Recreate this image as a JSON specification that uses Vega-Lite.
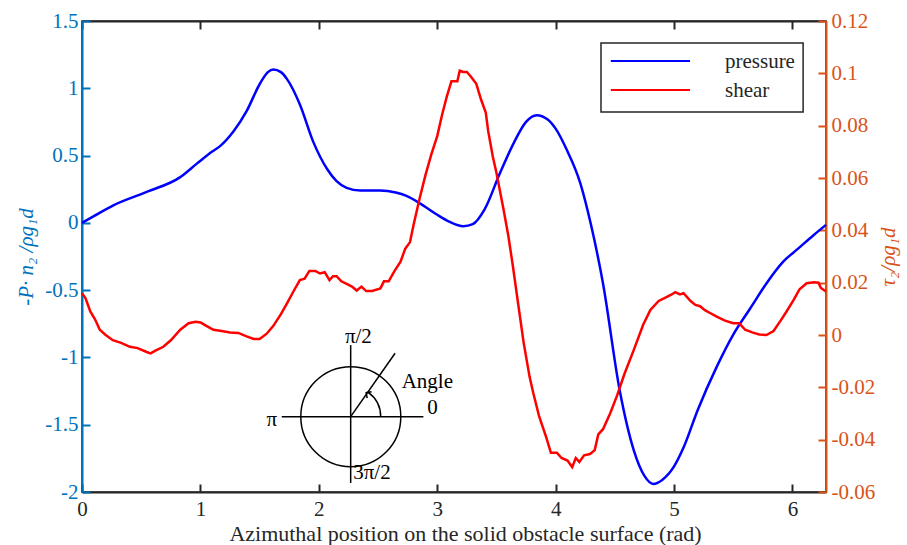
{
  "$schema": "https://vega.github.io/schema/vega-lite/v6.json",
  "width": 744,
  "height": 471,
  "autosize": "none",
  "padding": {"left": 82, "top": 21, "right": 81, "bottom": 53},
  "background": "white",
  "config": {
    "font": "Liberation Serif",
    "view": {"stroke": "#262626", "strokeWidth": 1.5},
    "axis": {"grid": false},
    "text": {"font": "Liberation Serif", "fontSize": 21}
  },
  "datasets": {
    "pressure": [
      {"x": 0, "p": 0}, {"x": 0.1, "p": 0.05}, {"x": 0.265, "p": 0.13}, {"x": 0.546, "p": 0.23},
      {"x": 0.83, "p": 0.34}, {"x": 0.97, "p": 0.44}, {"x": 1.1, "p": 0.53}, {"x": 1.166, "p": 0.57},
      {"x": 1.28, "p": 0.68}, {"x": 1.39, "p": 0.83}, {"x": 1.5, "p": 1.03}, {"x": 1.57, "p": 1.12},
      {"x": 1.616, "p": 1.14}, {"x": 1.68, "p": 1.12}, {"x": 1.73, "p": 1.07}, {"x": 1.84, "p": 0.88},
      {"x": 1.954, "p": 0.6}, {"x": 2.07, "p": 0.4}, {"x": 2.15, "p": 0.31}, {"x": 2.235, "p": 0.26},
      {"x": 2.35, "p": 0.24}, {"x": 2.517, "p": 0.24}, {"x": 2.65, "p": 0.225}, {"x": 2.74, "p": 0.2},
      {"x": 2.88, "p": 0.13}, {"x": 3.0, "p": 0.06}, {"x": 3.1, "p": 0.01}, {"x": 3.22, "p": -0.025},
      {"x": 3.3, "p": -0.01}, {"x": 3.4, "p": 0.1}, {"x": 3.53, "p": 0.37}, {"x": 3.65, "p": 0.6},
      {"x": 3.75, "p": 0.75}, {"x": 3.84, "p": 0.8}, {"x": 3.93, "p": 0.77}, {"x": 4.0, "p": 0.7},
      {"x": 4.09, "p": 0.55}, {"x": 4.21, "p": 0.29}, {"x": 4.3, "p": -0.02}, {"x": 4.4, "p": -0.45},
      {"x": 4.54, "p": -1.24}, {"x": 4.66, "p": -1.69}, {"x": 4.75, "p": -1.88}, {"x": 4.825, "p": -1.94},
      {"x": 4.9, "p": -1.91}, {"x": 5.0, "p": -1.81}, {"x": 5.08, "p": -1.67}, {"x": 5.2, "p": -1.39},
      {"x": 5.36, "p": -1.07}, {"x": 5.5, "p": -0.83}, {"x": 5.64, "p": -0.64}, {"x": 5.78, "p": -0.45},
      {"x": 5.92, "p": -0.29}, {"x": 6.05, "p": -0.19}, {"x": 6.18, "p": -0.09}, {"x": 6.2832, "p": -0.015}
    ],
    "shear": [
      {"x": 0, "s": 0.016}, {"x": 0.03, "s": 0.014}, {"x": 0.07, "s": 0.009}, {"x": 0.11, "s": 0.006},
      {"x": 0.15, "s": 0.002}, {"x": 0.2, "s": 0.0}, {"x": 0.26, "s": -0.002}, {"x": 0.33, "s": -0.003},
      {"x": 0.405, "s": -0.0045}, {"x": 0.47, "s": -0.005}, {"x": 0.546, "s": -0.0065}, {"x": 0.58, "s": -0.007},
      {"x": 0.62, "s": -0.006}, {"x": 0.687, "s": -0.0045}, {"x": 0.75, "s": -0.002}, {"x": 0.83, "s": 0.002},
      {"x": 0.9, "s": 0.0045}, {"x": 0.96, "s": 0.0051}, {"x": 1.0, "s": 0.0048}, {"x": 1.05, "s": 0.0035},
      {"x": 1.11, "s": 0.002}, {"x": 1.18, "s": 0.0015}, {"x": 1.25, "s": 0.001}, {"x": 1.32, "s": 0.0008},
      {"x": 1.39, "s": -0.0005}, {"x": 1.45, "s": -0.0015}, {"x": 1.5, "s": -0.0015}, {"x": 1.56, "s": 0.0005},
      {"x": 1.616, "s": 0.0035}, {"x": 1.68, "s": 0.008}, {"x": 1.73, "s": 0.012}, {"x": 1.79, "s": 0.017},
      {"x": 1.84, "s": 0.021}, {"x": 1.88, "s": 0.0215}, {"x": 1.92, "s": 0.0245}, {"x": 1.97, "s": 0.0245},
      {"x": 2.01, "s": 0.0235}, {"x": 2.05, "s": 0.024}, {"x": 2.09, "s": 0.021}, {"x": 2.12, "s": 0.0225},
      {"x": 2.15, "s": 0.0225}, {"x": 2.19, "s": 0.0205}, {"x": 2.235, "s": 0.0195}, {"x": 2.28, "s": 0.0185},
      {"x": 2.32, "s": 0.017}, {"x": 2.36, "s": 0.0185}, {"x": 2.4, "s": 0.0168}, {"x": 2.45, "s": 0.0168},
      {"x": 2.52, "s": 0.0178}, {"x": 2.55, "s": 0.0205}, {"x": 2.59, "s": 0.0205}, {"x": 2.64, "s": 0.0245},
      {"x": 2.69, "s": 0.028}, {"x": 2.73, "s": 0.033}, {"x": 2.77, "s": 0.0355}, {"x": 2.8, "s": 0.042},
      {"x": 2.85, "s": 0.052}, {"x": 2.9, "s": 0.061}, {"x": 2.95, "s": 0.069}, {"x": 3.0, "s": 0.076},
      {"x": 3.04, "s": 0.084}, {"x": 3.08, "s": 0.091}, {"x": 3.12, "s": 0.097}, {"x": 3.17, "s": 0.097},
      {"x": 3.19, "s": 0.101}, {"x": 3.22, "s": 0.1005}, {"x": 3.25, "s": 0.1005}, {"x": 3.28, "s": 0.099},
      {"x": 3.33, "s": 0.096}, {"x": 3.37, "s": 0.09}, {"x": 3.41, "s": 0.085}, {"x": 3.43, "s": 0.078},
      {"x": 3.47, "s": 0.068}, {"x": 3.5, "s": 0.062}, {"x": 3.56, "s": 0.048}, {"x": 3.6, "s": 0.038},
      {"x": 3.64, "s": 0.026}, {"x": 3.68, "s": 0.013}, {"x": 3.73, "s": -0.003}, {"x": 3.78, "s": -0.016},
      {"x": 3.81, "s": -0.022}, {"x": 3.86, "s": -0.031}, {"x": 3.92, "s": -0.039}, {"x": 3.96, "s": -0.045},
      {"x": 4.01, "s": -0.045}, {"x": 4.05, "s": -0.047}, {"x": 4.1, "s": -0.048}, {"x": 4.14, "s": -0.0505},
      {"x": 4.17, "s": -0.047}, {"x": 4.2, "s": -0.0485}, {"x": 4.24, "s": -0.046}, {"x": 4.29, "s": -0.0455},
      {"x": 4.33, "s": -0.044}, {"x": 4.36, "s": -0.038}, {"x": 4.4, "s": -0.036}, {"x": 4.46, "s": -0.03},
      {"x": 4.52, "s": -0.023}, {"x": 4.58, "s": -0.015}, {"x": 4.66, "s": -0.0057}, {"x": 4.74, "s": 0.004},
      {"x": 4.8, "s": 0.0096}, {"x": 4.87, "s": 0.013}, {"x": 4.94, "s": 0.0146}, {"x": 4.98, "s": 0.0155},
      {"x": 5.01, "s": 0.0164}, {"x": 5.05, "s": 0.0155}, {"x": 5.08, "s": 0.016}, {"x": 5.14, "s": 0.013},
      {"x": 5.18, "s": 0.0115}, {"x": 5.22, "s": 0.011}, {"x": 5.26, "s": 0.0095}, {"x": 5.3, "s": 0.0085},
      {"x": 5.36, "s": 0.007}, {"x": 5.43, "s": 0.0055}, {"x": 5.5, "s": 0.0045}, {"x": 5.55, "s": 0.0045},
      {"x": 5.6, "s": 0.002}, {"x": 5.66, "s": 0.001}, {"x": 5.72, "s": 0.0002}, {"x": 5.78, "s": 0.0},
      {"x": 5.84, "s": 0.0015}, {"x": 5.9, "s": 0.0055}, {"x": 5.95, "s": 0.009}, {"x": 6.01, "s": 0.0134},
      {"x": 6.06, "s": 0.0175}, {"x": 6.12, "s": 0.0198}, {"x": 6.18, "s": 0.0202}, {"x": 6.22, "s": 0.02},
      {"x": 6.24, "s": 0.018}, {"x": 6.2832, "s": 0.0166}
    ]
  },
  "layer": [
    {
      "layer": [
        {
          "data": {"name": "pressure"},
          "mark": {"type": "line", "color": "#0000FF", "strokeWidth": 2.5, "interpolate": "monotone"},
          "encoding": {
            "x": {
              "field": "x", "type": "quantitative",
              "scale": {"domain": [0, 6.2832], "nice": false, "zero": false},
              "axis": {
                "orient": "bottom", "values": [0, 1, 2, 3, 4, 5, 6],
                "labelExpr": "format(datum.value, 'd')",
                "labelFlush": false,
                "labelFont": "Liberation Serif", "labelFontSize": 21, "labelPadding": 14,
                "tickSize": -8, "tickWidth": 2, "domainWidth": 2,
                "title": "Azimuthal position on the solid obstacle surface (rad)",
                "titleFont": "Liberation Serif", "titleFontSize": 22, "titleFontWeight": "normal",
                "titleX": 383,
                "titleColor": "#262626", "labelColor": "#262626", "domainColor": "#262626", "tickColor": "#262626",
                "titlePadding": 4
              }
            },
            "y": {
              "field": "p", "type": "quantitative",
              "scale": {"domain": [-2, 1.5], "nice": false, "zero": false},
              "axis": {
                "orient": "left",
                "values": [-2, -1.5, -1, -0.5, 0, 0.5, 1, 1.5],
                "labelExpr": "replace(format(datum.value, '.1~f'), '\u2212', '-')",
                "labelFlush": false,
                "labelFont": "Liberation Serif", "labelFontSize": 21, "labelPadding": 12,
                "tickSize": -8, "tickWidth": 2, "domainWidth": 2,
                "title": "-P· n₂ /ρg₁d",
                "titleFont": "Liberation Serif", "titleFontSize": 21, "titleFontWeight": "normal",
                "titleFontStyle": "italic",
                "titlePadding": 8,
                "labelColor": "#0072BD", "domainColor": "#0072BD", "tickColor": "#0072BD", "titleColor": "#0072BD"
              }
            }
          }
        },
        {
          "data": {"values": [{}]},
          "mark": {"type": "rect", "fill": "white", "stroke": "#262626", "strokeWidth": 1.5},
          "encoding": {
            "x": {"datum": 4.383, "type": "quantitative"},
            "x2": {"datum": 6.09},
            "y": {"datum": 1.337, "type": "quantitative"},
            "y2": {"datum": 0.824}
          }
        },
        {
          "data": {"values": [{}]},
          "mark": {"type": "rule", "color": "#0000FF", "strokeWidth": 2},
          "encoding": {
            "x": {"datum": 4.466, "type": "quantitative"},
            "x2": {"datum": 5.135},
            "y": {"datum": 1.203, "type": "quantitative"},
            "y2": {"datum": 1.203}
          }
        },
        {
          "data": {"values": [{}]},
          "mark": {"type": "rule", "color": "#FF0000", "strokeWidth": 2},
          "encoding": {
            "x": {"datum": 4.466, "type": "quantitative"},
            "x2": {"datum": 5.135},
            "y": {"datum": 0.987, "type": "quantitative"},
            "y2": {"datum": 0.987}
          }
        },
        {
          "data": {"values": [{"label": "pressure", "lx": 5.43, "ly": 1.195}, {"label": "shear", "lx": 5.43, "ly": 0.98}]},
          "mark": {"type": "text", "align": "left", "baseline": "middle", "color": "#262626", "fontSize": 21, "font": "Liberation Serif"},
          "encoding": {
            "x": {"field": "lx", "type": "quantitative"},
            "y": {"field": "ly", "type": "quantitative"},
            "text": {"field": "label"}
          }
        },
        {
          "data": {"values": [{}]},
          "mark": {"type": "point", "shape": "circle", "filled": false, "size": 10000, "stroke": "black", "strokeWidth": 1.5, "opacity": 1},
          "encoding": {
            "x": {"datum": 2.27, "type": "quantitative"},
            "y": {"datum": -1.44, "type": "quantitative"}
          }
        },
        {
          "data": {"values": [{}]},
          "mark": {"type": "rule", "color": "black", "strokeWidth": 1.5},
          "encoding": {
            "x": {"datum": 1.687, "type": "quantitative"},
            "x2": {"datum": 2.883},
            "y": {"datum": -1.44, "type": "quantitative"},
            "y2": {"datum": -1.44}
          }
        },
        {
          "data": {"values": [{}]},
          "mark": {"type": "rule", "color": "black", "strokeWidth": 1.5},
          "encoding": {
            "x": {"datum": 2.269, "type": "quantitative"},
            "x2": {"datum": 2.269},
            "y": {"datum": -0.908, "type": "quantitative"},
            "y2": {"datum": -1.933}
          }
        },
        {
          "data": {"values": [{}]},
          "mark": {"type": "rule", "color": "black", "strokeWidth": 1.5},
          "encoding": {
            "x": {"datum": 2.269, "type": "quantitative"},
            "x2": {"datum": 2.644},
            "y": {"datum": -1.44, "type": "quantitative"},
            "y2": {"datum": -0.969}
          }
        },
        {
          "data": {"values": [{}]},
          "mark": {"type": "arc", "theta": 0.61, "theta2": 1.5708, "innerRadius": 30, "outerRadius": 30, "fill": null, "filled": false, "stroke": "black", "strokeWidth": 1.5},
          "encoding": {
            "x": {"datum": 2.269, "type": "quantitative"},
            "y": {"datum": -1.44, "type": "quantitative"}
          }
        },
        {
          "data": {"values": [{}]},
          "mark": {"type": "point", "shape": "M-1,1L0,0L1,1", "filled": false, "size": 60, "angle": 305, "stroke": "black", "strokeWidth": 1.5, "opacity": 1},
          "encoding": {
            "x": {"datum": 2.4, "type": "quantitative"},
            "y": {"datum": -1.262, "type": "quantitative"}
          }
        },
        {
          "data": {"values": [
            {"label": "π/2", "lx": 2.334, "ly": -0.846},
            {"label": "π", "lx": 1.602, "ly": -1.465},
            {"label": "0", "lx": 2.96, "ly": -1.378},
            {"label": "Angle", "lx": 2.916, "ly": -1.186},
            {"label": "3π/2", "lx": 2.449, "ly": -1.861}
          ]},
          "mark": {"type": "text", "align": "center", "baseline": "middle", "color": "black", "fontSize": 21, "font": "Liberation Serif"},
          "encoding": {
            "x": {"field": "lx", "type": "quantitative"},
            "y": {"field": "ly", "type": "quantitative"},
            "text": {"field": "label"}
          }
        }
      ]
    },
    {
      "data": {"name": "shear"},
      "mark": {"type": "line", "color": "#FF0000", "strokeWidth": 2.5},
      "encoding": {
        "x": {
          "field": "x", "type": "quantitative",
          "scale": {"domain": [0, 6.2832], "nice": false, "zero": false},
          "axis": {
            "orient": "top", "values": [0, 1, 2, 3, 4, 5, 6], "labels": false, "title": null,
            "tickSize": -8, "tickWidth": 2, "domainWidth": 2,
            "domainColor": "#262626", "tickColor": "#262626"
          }
        },
        "y": {
          "field": "s", "type": "quantitative",
          "scale": {"domain": [-0.06, 0.12], "nice": false, "zero": false},
          "axis": {
            "orient": "right",
            "values": [-0.06, -0.04, -0.02, 0, 0.02, 0.04, 0.06, 0.08, 0.1, 0.12],
            "labelExpr": "replace(format(datum.value, '.2~f'), '\u2212', '-')",
            "labelFlush": false,
            "labelFont": "Liberation Serif", "labelFontSize": 21, "labelPadding": 13,
            "tickSize": -8, "tickWidth": 2, "domainWidth": 2,
            "title": "τ₂/ρg₁d",
            "titleFont": "Liberation Serif", "titleFontSize": 21, "titleFontWeight": "normal",
            "titleFontStyle": "italic",
            "titleAngle": 270,
            "titlePadding": 24,
            "labelColor": "#D95319", "domainColor": "#D95319", "tickColor": "#D95319", "titleColor": "#D95319"
          }
        }
      }
    }
  ],
  "resolve": {"scale": {"y": "independent"}, "axis": {"x": "independent"}}
}
